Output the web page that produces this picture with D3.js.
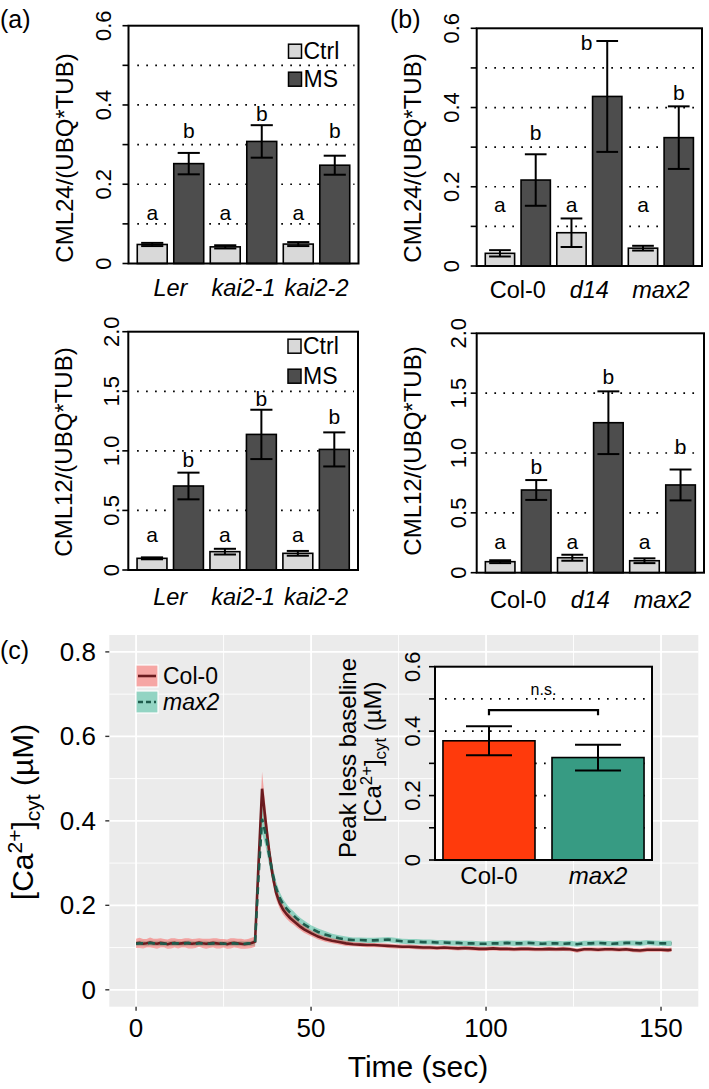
<!DOCTYPE html>
<html>
<head>
<meta charset="utf-8">
<script src="https://cdn.jsdelivr.net/npm/d3@7"></script>
<style>
body { margin: 0; background: #fff; }
text { font-family: "Liberation Sans", Arial, Helvetica, sans-serif; }
</style>
</head>
<body>
<script>
// ---------- data: panels (a) and (b) ----------
var treatments = ["Ctrl", "MS"];
var genotypesA = ["Ler", "kai2-1", "kai2-2"];
var genotypesB = ["Col-0", "d14", "max2"];

var cml24A_ctrl = [0.048, 0.042, 0.049];
var cml24A_ctrlErr = [0.004, 0.004, 0.005];
var cml24A_ms = [0.252, 0.308, 0.248];
var cml24A_msErr = [0.027, 0.041, 0.024];
var cml24A_ctrlLetterY = [0.128, 0.128, 0.128];
var cml24A_msLetterY = [0.335, 0.378, 0.335];

var cml24B_ctrl = [0.032, 0.084, 0.045];
var cml24B_ctrlErr = [0.008, 0.036, 0.006];
var cml24B_ms = [0.217, 0.428, 0.324];
var cml24B_msErr = [0.065, 0.140, 0.079];
var cml24B_ctrlLetterY = [0.154, 0.154, 0.154];
var cml24B_msLetterY = [0.336, 0.565, 0.437];

var cml12A_ctrl = [0.098, 0.154, 0.140];
var cml12A_ctrlErr = [0.008, 0.024, 0.020];
var cml12A_ms = [0.705, 1.138, 1.012];
var cml12A_msErr = [0.112, 0.207, 0.143];
var cml12A_ctrlLetterY = [0.30, 0.30, 0.30];
var cml12A_msLetterY = [0.929, 1.44, 1.286];

var cml12B_ctrl = [0.092, 0.125, 0.100];
var cml12B_ctrlErr = [0.012, 0.025, 0.020];
var cml12B_ms = [0.691, 1.253, 0.733];
var cml12B_msErr = [0.083, 0.262, 0.129];
var cml12B_ctrlLetterY = [0.259, 0.259, 0.259];
var cml12B_msLetterY = [0.891, 1.643, 1.058];

var ctrlLetters = ["a", "a", "a"];
var msLetters = ["b", "b", "b"];

var ticks24 = [0, 0.1, 0.2, 0.3, 0.4, 0.5, 0.6];
var tickLabelValues24 = [0, 0.2, 0.4, 0.6];
var tickLabels24 = ["0", "0.2", "0.4", "0.6"];
var grid24 = [0.1, 0.2, 0.3, 0.4, 0.5];

var ticks12 = [0, 0.5, 1.0, 1.5, 2.0];
var tickLabelValues12 = [0, 0.5, 1.0, 1.5, 2.0];
var tickLabels12 = ["0", "0.5", "1.0", "1.5", "2.0"];
var grid12 = [0.5, 1.0, 1.5];

// ---------- data: panel (c) ----------
var lines = ["Col-0", "max2"];
var time = [0,1,2,3,4,5,6,7,8,9,10,11,12,13,14,15,16,17,18,19,20,21,22,23,24,25,26,27,28,29,30,31,32,33,
  34,35,36,37,38,39,40,41,42,43,44,45,46,47,48,50,52,54,56,58,60,
  62,64,66,68,70,72,74,76,78,80,82,84,86,88,90,92,94,96,98,100,102,104,106,108,110,112,114,116,118,120,
  122,124,126,128,130,132,134,136,138,140,142,144,146,148,150,152,153];
var col0Mean = [0.110,0.111,0.109,0.110,0.112,0.110,0.109,0.111,0.110,0.108,
  0.110,0.111,0.109,0.110,0.111,0.110,0.109,0.110,0.112,0.110,
  0.109,0.110,0.111,0.110,0.109,0.110,0.108,0.110,0.111,0.110,
  0.109,0.108,0.109,0.111,
  0.114,0.300,0.476,0.400,0.330,0.272,0.230,0.206,0.190,0.179,
  0.170,0.163,0.156,0.149,0.143,0.134,0.126,0.120,0.116,0.113,0.110,
  0.108,0.107,0.106,0.106,0.105,0.104,0.103,0.102,0.102,0.101,
  0.100,0.100,0.099,0.100,0.099,0.098,0.099,0.098,0.097,0.097,
  0.098,0.097,0.097,0.096,0.097,0.097,0.096,0.096,0.097,0.096,
  0.097,0.096,0.093,0.096,0.096,0.095,0.096,0.096,0.095,0.096,
  0.094,0.093,0.095,0.095,0.095,0.094,0.095];
var col0Se = [0.011,0.012,0.011,0.010,0.012,0.011,0.012,0.011,0.010,0.011,
  0.012,0.011,0.011,0.010,0.011,0.012,0.011,0.011,0.010,0.011,
  0.012,0.011,0.011,0.012,0.011,0.010,0.011,0.012,0.011,0.011,
  0.012,0.011,0.011,0.012,
  0.012,0.030,0.040,0.032,0.024,0.018,0.015,0.013,0.012,0.011,
  0.010,0.009,0.009,0.008,0.008,0.007,0.007,0.006,0.006,0.006,0.006,
  0.005,0.005,0.005,0.005,0.005,0.005,0.005,0.005,0.005,0.005,
  0.005,0.005,0.005,0.005,0.005,0.005,0.005,0.005,0.005,0.005,
  0.005,0.005,0.005,0.005,0.005,0.005,0.005,0.005,0.005,0.005,
  0.005,0.005,0.005,0.005,0.005,0.005,0.005,0.005,0.005,0.005,
  0.005,0.005,0.005,0.005,0.005,0.005,0.005];
var max2Mean = [0.109,0.110,0.110,0.109,0.111,0.110,0.110,0.110,0.109,0.109,
  0.110,0.110,0.110,0.109,0.110,0.111,0.110,0.109,0.110,0.110,
  0.110,0.109,0.110,0.110,0.110,0.109,0.109,0.110,0.110,0.109,
  0.110,0.109,0.110,0.110,
  0.112,0.270,0.405,0.370,0.320,0.276,0.241,0.218,0.203,0.192,
  0.183,0.176,0.168,0.161,0.155,0.145,0.137,0.131,0.126,0.122,0.119,
  0.118,0.118,0.117,0.117,0.118,0.119,0.117,0.115,0.114,0.114,
  0.113,0.113,0.112,0.112,0.111,0.111,0.110,0.110,0.109,0.109,
  0.110,0.110,0.111,0.110,0.110,0.111,0.110,0.109,0.110,0.110,
  0.109,0.110,0.108,0.110,0.110,0.111,0.110,0.109,0.110,0.111,
  0.111,0.110,0.112,0.111,0.110,0.110,0.110];
var max2Se = [0.006,0.006,0.006,0.006,0.006,0.006,0.006,0.006,0.006,0.006,
  0.006,0.006,0.006,0.006,0.006,0.006,0.006,0.006,0.006,0.006,
  0.006,0.006,0.006,0.006,0.006,0.006,0.006,0.006,0.006,0.006,
  0.006,0.006,0.006,0.006,
  0.007,0.020,0.035,0.030,0.024,0.019,0.016,0.014,0.012,0.011,
  0.010,0.010,0.009,0.009,0.009,0.008,0.008,0.008,0.007,0.007,0.007,
  0.006,0.006,0.006,0.006,0.006,0.006,0.006,0.006,0.006,0.006,
  0.006,0.006,0.006,0.006,0.006,0.006,0.006,0.006,0.006,0.006,
  0.006,0.006,0.006,0.006,0.006,0.006,0.006,0.006,0.006,0.006,
  0.006,0.006,0.006,0.006,0.006,0.006,0.006,0.006,0.006,0.006,
  0.006,0.006,0.006,0.006,0.006,0.006,0.006];

var timeTicks = [0, 50, 100, 150];
var timeMinor = [25, 75, 125];
var caTicks = [0, 0.2, 0.4, 0.6, 0.8];
var caTickLabels = ["0", "0.2", "0.4", "0.6", "0.8"];
var caMinor = [0.1, 0.3, 0.5, 0.7];

// inset: peak less baseline
var peakMean = [0.370, 0.318];
var peakErr = [0.045, 0.040];
var insetTicks = [0, 0.1, 0.2, 0.3, 0.4, 0.5, 0.6];
var insetLabelValues = [0, 0.2, 0.4, 0.6];
var insetLabels = ["0", "0.2", "0.4", "0.6"];
var insetGrid = [0.1, 0.2, 0.3, 0.4, 0.5];

// ---------- drawing ----------
var ctrlFill = "#d9d9d9", msFill = "#4d4d4d";

var svg = d3.select("body").append("svg")
    .attr("width", 709)
    .attr("height", 1089);

function isItalic(name) { return name !== "Col-0"; }

function barPanel(p) {
    var y = d3.scaleLinear().domain([0, p.yMax]).range([p.bottom, p.top]);
    var keys = [];
    p.genotypes.forEach(function (gn) {
        treatments.forEach(function (t) { keys.push(gn + "|" + t); });
    });
    var x = d3.scaleBand().domain(keys).range([p.left, p.right])
        .paddingInner(0.18).paddingOuter(0.24);
    var bw = x.bandwidth();

    var rows = [];
    p.genotypes.forEach(function (gn, i) {
        rows.push({ key: gn + "|Ctrl", v: p.ctrl[i], e: p.ctrlErr[i], lab: ctrlLetters[i], ly: p.ctrlLetterY[i], fill: ctrlFill });
        rows.push({ key: gn + "|MS", v: p.ms[i], e: p.msErr[i], lab: msLetters[i], ly: p.msLetterY[i], fill: msFill });
    });

    var g = svg.append("g");

    // dotted reference lines
    g.selectAll("line.grid").data(p.grid).enter().append("line")
        .attr("x1", x(keys[0]))
        .attr("x2", p.right - 4)
        .attr("y1", function (d) { return y(d); })
        .attr("y2", function (d) { return y(d); })
        .attr("stroke", "#000")
        .attr("stroke-width", 1.7)
        .attr("stroke-dasharray", "1.7,7.3");

    g.selectAll("rect.bar").data(rows).enter().append("rect")
        .attr("x", function (d) { return x(d.key); })
        .attr("y", function (d) { return y(d.v); })
        .attr("width", bw)
        .attr("height", function (d) { return y(0) - y(d.v); })
        .attr("fill", function (d) { return d.fill; })
        .attr("stroke", "#000")
        .attr("stroke-width", 1.6);

    var capW = bw * 0.74;
    rows.forEach(function (d) {
        var cx = x(d.key) + bw / 2;
        g.append("line").attr("x1", cx).attr("x2", cx)
            .attr("y1", y(d.v - d.e)).attr("y2", y(d.v + d.e))
            .attr("stroke", "#000").attr("stroke-width", 2);
        [d.v - d.e, d.v + d.e].forEach(function (v) {
            g.append("line").attr("x1", cx - capW / 2).attr("x2", cx + capW / 2)
                .attr("y1", y(v)).attr("y2", y(v))
                .attr("stroke", "#000").attr("stroke-width", 2);
        });
        // significance letter; put beside the cap when it sits at cap height
        var beside = d.ly <= d.v + d.e;
        g.append("text")
            .attr("x", beside ? cx - capW / 2 - 4 : cx)
            .attr("y", y(d.ly))
            .attr("text-anchor", beside ? "end" : "middle")
            .attr("dominant-baseline", "central")
            .attr("font-size", 21)
            .text(d.lab);
    });

    g.append("rect")
        .attr("x", p.left).attr("y", p.top)
        .attr("width", p.right - p.left).attr("height", p.bottom - p.top)
        .attr("fill", "none").attr("stroke", "#000").attr("stroke-width", 2);

    g.selectAll("line.tick").data(p.ticks).enter().append("line")
        .attr("x1", p.left).attr("x2", p.left - 6)
        .attr("y1", function (d) { return y(d); })
        .attr("y2", function (d) { return y(d); })
        .attr("stroke", "#000").attr("stroke-width", 1.6);

    p.tickValues.forEach(function (v, i) {
        g.append("text")
            .attr("transform", "translate(" + (p.left - p.tickGap + 8) + "," + y(v) + ") rotate(-90)")
            .attr("text-anchor", "middle")
            .attr("font-size", 22)
            .text(p.tickLabels[i]);
    });

    g.append("text")
        .attr("transform", "translate(" + (p.left - 56) + "," + p.titleY + ") rotate(-90)")
        .attr("text-anchor", "middle")
        .attr("font-size", 24)
        .text(p.title);

    p.genotypes.forEach(function (gn) {
        var cx = (x(gn + "|Ctrl") + x(gn + "|MS") + bw) / 2;
        g.append("text")
            .attr("x", cx)
            .attr("y", p.bottom + p.nameGap)
            .attr("text-anchor", "middle")
            .attr("font-size", 23.5)
            .attr("font-style", isItalic(gn) ? "italic" : "normal")
            .text(gn);
    });

    if (p.legend) {
        treatments.forEach(function (t, i) {
            var cy = p.top + p.legendDy[i];
            g.append("rect")
                .attr("x", p.right - 70).attr("y", cy - 7)
                .attr("width", 13).attr("height", 14)
                .attr("fill", i === 0 ? ctrlFill : msFill)
                .attr("stroke", "#000").attr("stroke-width", 1.5);
            g.append("text")
                .attr("x", p.right - 55).attr("y", cy)
                .attr("dominant-baseline", "central")
                .attr("font-size", 23)
                .text(t);
        });
    }
}

barPanel({ genotypes: genotypesA, ctrl: cml24A_ctrl, ctrlErr: cml24A_ctrlErr, ms: cml24A_ms, msErr: cml24A_msErr,
    ctrlLetterY: cml24A_ctrlLetterY, msLetterY: cml24A_msLetterY,
    yMax: 0.6, ticks: ticks24, tickValues: tickLabelValues24, tickLabels: tickLabels24, grid: grid24,
    left: 128.5, right: 358.5, top: 25.7, bottom: 263.5, tickGap: 25.5, titleY: 158, nameGap: 32,
    title: "CML24/(UBQ*TUB)", legend: true, legendDy: [25.5, 53.5] });

barPanel({ genotypes: genotypesB, ctrl: cml24B_ctrl, ctrlErr: cml24B_ctrlErr, ms: cml24B_ms, msErr: cml24B_msErr,
    ctrlLetterY: cml24B_ctrlLetterY, msLetterY: cml24B_msLetterY,
    yMax: 0.6, ticks: ticks24, tickValues: tickLabelValues24, tickLabels: tickLabels24, grid: grid24,
    left: 476.7, right: 702, top: 28.3, bottom: 266, tickGap: 25.5, titleY: 158, nameGap: 32,
    title: "CML24/(UBQ*TUB)", legend: false });

barPanel({ genotypes: genotypesA, ctrl: cml12A_ctrl, ctrlErr: cml12A_ctrlErr, ms: cml12A_ms, msErr: cml12A_msErr,
    ctrlLetterY: cml12A_ctrlLetterY, msLetterY: cml12A_msLetterY,
    yMax: 2.0, ticks: ticks12, tickValues: tickLabelValues12, tickLabels: tickLabels12, grid: grid12,
    left: 128.3, right: 358, top: 331.7, bottom: 570, tickGap: 17.5, titleY: 452, nameGap: 35,
    title: "CML12/(UBQ*TUB)", legend: true, legendDy: [14.5, 44.5] });

barPanel({ genotypes: genotypesB, ctrl: cml12B_ctrl, ctrlErr: cml12B_ctrlErr, ms: cml12B_ms, msErr: cml12B_msErr,
    ctrlLetterY: cml12B_ctrlLetterY, msLetterY: cml12B_msLetterY,
    yMax: 2.0, ticks: ticks12, tickValues: tickLabelValues12, tickLabels: tickLabels12, grid: grid12,
    left: 476.7, right: 704, top: 333.3, bottom: 572.7, tickGap: 18.5, titleY: 451, nameGap: 35,
    title: "CML12/(UBQ*TUB)", legend: false });

// panel letters
svg.append("text").attr("x", 0).attr("y", 28).attr("font-size", 25).text("(a)");
svg.append("text").attr("x", 390).attr("y", 28).attr("font-size", 25).text("(b)");
svg.append("text").attr("x", 0).attr("y", 659).attr("font-size", 25).text("(c)");

// ---------- panel (c): time course ----------
function caLabel(t, size) {
    t.append("tspan").text("[Ca");
    t.append("tspan").attr("font-size", size * 0.7).attr("dy", -size * 0.38).text("2+");
    t.append("tspan").attr("dy", size * 0.38).text("]");
    t.append("tspan").attr("font-size", size * 0.7).attr("dy", size * 0.22).text("cyt");
    t.append("tspan").attr("dy", -size * 0.22).text(" (\u00b5M)");
}

var cLeft = 109.3, cRight = 698.3, cTop = 635, cBottom = 1006.7;
var tExt = d3.extent(time);
var tPad = (tExt[1] - tExt[0]) * 0.05;
var tx = d3.scaleLinear().domain([tExt[0] - tPad, tExt[1] + tPad]).range([cLeft, cRight]);
var ty = d3.scaleLinear().domain([-0.04, 0.84]).range([cBottom, cTop]);

var gc = svg.append("g");
gc.append("rect").attr("x", cLeft).attr("y", cTop)
    .attr("width", cRight - cLeft).attr("height", cBottom - cTop).attr("fill", "#ebebeb");

gc.selectAll("line.ymin").data(caMinor).enter().append("line")
    .attr("x1", cLeft).attr("x2", cRight)
    .attr("y1", function (d) { return ty(d); }).attr("y2", function (d) { return ty(d); })
    .attr("stroke", "#fff").attr("stroke-width", 0.9);
gc.selectAll("line.xmin").data(timeMinor).enter().append("line")
    .attr("x1", function (d) { return tx(d); }).attr("x2", function (d) { return tx(d); })
    .attr("y1", cTop).attr("y2", cBottom)
    .attr("stroke", "#fff").attr("stroke-width", 0.9);
gc.selectAll("line.ymaj").data(caTicks).enter().append("line")
    .attr("x1", cLeft).attr("x2", cRight)
    .attr("y1", function (d) { return ty(d); }).attr("y2", function (d) { return ty(d); })
    .attr("stroke", "#fff").attr("stroke-width", 1.8);
gc.selectAll("line.xmaj").data(timeTicks).enter().append("line")
    .attr("x1", function (d) { return tx(d); }).attr("x2", function (d) { return tx(d); })
    .attr("y1", cTop).attr("y2", cBottom)
    .attr("stroke", "#fff").attr("stroke-width", 1.8);

var series = [
    { name: "Col-0", mean: col0Mean, se: col0Se, fill: "#fa5a55", line: "#6b1b1f", dash: null },
    { name: "max2", mean: max2Mean, se: max2Se, fill: "#33b593", line: "#1e5b4c", dash: "7,5" }
];

var area = d3.area()
    .x(function (d) { return tx(d.t); })
    .y0(function (d) { return ty(d.m - d.s); })
    .y1(function (d) { return ty(d.m + d.s); });
var line = d3.line()
    .x(function (d) { return tx(d.t); })
    .y(function (d) { return ty(d.m); });

function pts(s) {
    return time.map(function (t, i) { return { t: t, m: s.mean[i], s: s.se[i] }; });
}

// max2 ribbon first, then Col-0 ribbon, then lines
[series[1], series[0]].forEach(function (s) {
    gc.append("path").attr("d", area(pts(s)))
        .attr("fill", s.fill).attr("fill-opacity", 0.5).attr("stroke", "none");
});
series.forEach(function (s) {
    gc.append("path").attr("d", line(pts(s)))
        .attr("fill", "none").attr("stroke", s.line).attr("stroke-width", 2.6)
        .attr("stroke-dasharray", s.dash);
});

// axes of (c)
gc.selectAll("line.xt").data(timeTicks).enter().append("line")
    .attr("x1", function (d) { return tx(d); }).attr("x2", function (d) { return tx(d); })
    .attr("y1", cBottom).attr("y2", cBottom + 4)
    .attr("stroke", "#333").attr("stroke-width", 1.4);
gc.selectAll("text.xt").data(timeTicks).enter().append("text")
    .attr("x", function (d) { return tx(d); })
    .attr("y", 1037)
    .attr("text-anchor", "middle")
    .attr("font-size", 26)
    .text(function (d) { return d; });
gc.selectAll("line.yt").data(caTicks).enter().append("line")
    .attr("x1", cLeft - 4).attr("x2", cLeft)
    .attr("y1", function (d) { return ty(d); }).attr("y2", function (d) { return ty(d); })
    .attr("stroke", "#333").attr("stroke-width", 1.4);
gc.selectAll("text.yt").data(caTicks).enter().append("text")
    .attr("x", 96)
    .attr("y", function (d) { return ty(d); })
    .attr("text-anchor", "end")
    .attr("dominant-baseline", "central")
    .attr("font-size", 26)
    .text(function (d, i) { return caTickLabels[i]; });

gc.append("text")
    .attr("x", 418).attr("y", 1077)
    .attr("text-anchor", "middle")
    .attr("font-size", 30)
    .text("Time (sec)");
caLabel(gc.append("text")
    .attr("transform", "translate(33,812) rotate(-90)")
    .attr("text-anchor", "middle")
    .attr("font-size", 30), 30);

// legend of (c)
series.forEach(function (s, i) {
    var ky = 665 + i * 26;
    gc.append("rect").attr("x", 136).attr("y", ky).attr("width", 22).attr("height", 22)
        .attr("fill", "#f2f2f2").attr("stroke", "#fff").attr("stroke-width", 1.2);
    gc.append("rect").attr("x", 136.6).attr("y", ky + 0.6).attr("width", 20.8).attr("height", 20.8)
        .attr("fill", s.fill).attr("fill-opacity", 0.5);
    gc.append("line").attr("x1", 138).attr("x2", 156).attr("y1", ky + 11).attr("y2", ky + 11)
        .attr("stroke", s.line).attr("stroke-width", 2.6).attr("stroke-dasharray", s.dash ? "5,3" : null);
    gc.append("text").attr("x", 163).attr("y", ky + 11)
        .attr("dominant-baseline", "central")
        .attr("font-size", 23)
        .attr("font-style", isItalic(s.name) ? "italic" : "normal")
        .text(s.name);
});

// ---------- inset ----------
var iLeft = 435, iRight = 652, iTop = 666.7, iBottom = 860;
var iy = d3.scaleLinear().domain([0, 0.6]).range([iBottom, iTop]);
var ix = d3.scaleBand().domain(lines).range([iLeft, iRight]).paddingInner(0.156).paddingOuter(0.073);
var insetFill = ["#ff3a0c", "#379b83"];
var gi = svg.append("g");

gi.append("rect").attr("x", iLeft).attr("y", iTop)
    .attr("width", iRight - iLeft).attr("height", iBottom - iTop).attr("fill", "#fff");
gi.selectAll("line.grid").data(insetGrid).enter().append("line")
    .attr("x1", iLeft + 10).attr("x2", iRight - 2)
    .attr("y1", function (d) { return iy(d); }).attr("y2", function (d) { return iy(d); })
    .attr("stroke", "#000").attr("stroke-width", 1.7).attr("stroke-dasharray", "1.7,7.3");
gi.selectAll("rect.bar").data(lines).enter().append("rect")
    .attr("x", function (d) { return ix(d); })
    .attr("y", function (d, i) { return iy(peakMean[i]); })
    .attr("width", ix.bandwidth())
    .attr("height", function (d, i) { return iBottom - iy(peakMean[i]); })
    .attr("fill", function (d, i) { return insetFill[i]; })
    .attr("stroke", "#000").attr("stroke-width", 1.6);
lines.forEach(function (nm, i) {
    var cx = ix(nm) + ix.bandwidth() / 2, cw = ix.bandwidth() * 0.5;
    gi.append("line").attr("x1", cx).attr("x2", cx)
        .attr("y1", iy(peakMean[i] - peakErr[i])).attr("y2", iy(peakMean[i] + peakErr[i]))
        .attr("stroke", "#000").attr("stroke-width", 2);
    [peakMean[i] - peakErr[i], peakMean[i] + peakErr[i]].forEach(function (v) {
        gi.append("line").attr("x1", cx - cw / 2).attr("x2", cx + cw / 2)
            .attr("y1", iy(v)).attr("y2", iy(v))
            .attr("stroke", "#000").attr("stroke-width", 2);
    });
    gi.append("text").attr("x", cx).attr("y", 884)
        .attr("text-anchor", "middle").attr("font-size", 24)
        .attr("font-style", isItalic(nm) ? "italic" : "normal")
        .text(nm);
});
gi.append("rect").attr("x", iLeft).attr("y", iTop)
    .attr("width", iRight - iLeft).attr("height", iBottom - iTop)
    .attr("fill", "none").attr("stroke", "#000").attr("stroke-width", 2);
gi.selectAll("line.tick").data(insetTicks).enter().append("line")
    .attr("x1", iLeft).attr("x2", iLeft - 6)
    .attr("y1", function (d) { return iy(d); }).attr("y2", function (d) { return iy(d); })
    .attr("stroke", "#000").attr("stroke-width", 1.6);
insetLabelValues.forEach(function (v, i) {
    gi.append("text")
        .attr("transform", "translate(420," + iy(v) + ") rotate(-90)")
        .attr("text-anchor", "middle").attr("font-size", 22)
        .text(insetLabels[i]);
});
// n.s. bracket between bar centres
var b1 = ix(lines[0]) + ix.bandwidth() / 2, b2 = ix(lines[1]) + ix.bandwidth() / 2;
var by = iy(0.465);
gi.append("path")
    .attr("d", "M" + b1 + "," + (by + 5) + "V" + by + "H" + b2 + "V" + (by + 5))
    .attr("fill", "none").attr("stroke", "#000").attr("stroke-width", 2.2);
gi.append("text").attr("x", (b1 + b2) / 2).attr("y", by - 15)
    .attr("text-anchor", "middle").attr("font-size", 16).text("n.s.");
gi.append("text")
    .attr("transform", "translate(356,758) rotate(-90)")
    .attr("text-anchor", "middle").attr("font-size", 24)
    .text("Peak less baseline");
caLabel(gi.append("text")
    .attr("transform", "translate(381,752) rotate(-90)")
    .attr("text-anchor", "middle").attr("font-size", 24), 24);
</script>
</body>
</html>
